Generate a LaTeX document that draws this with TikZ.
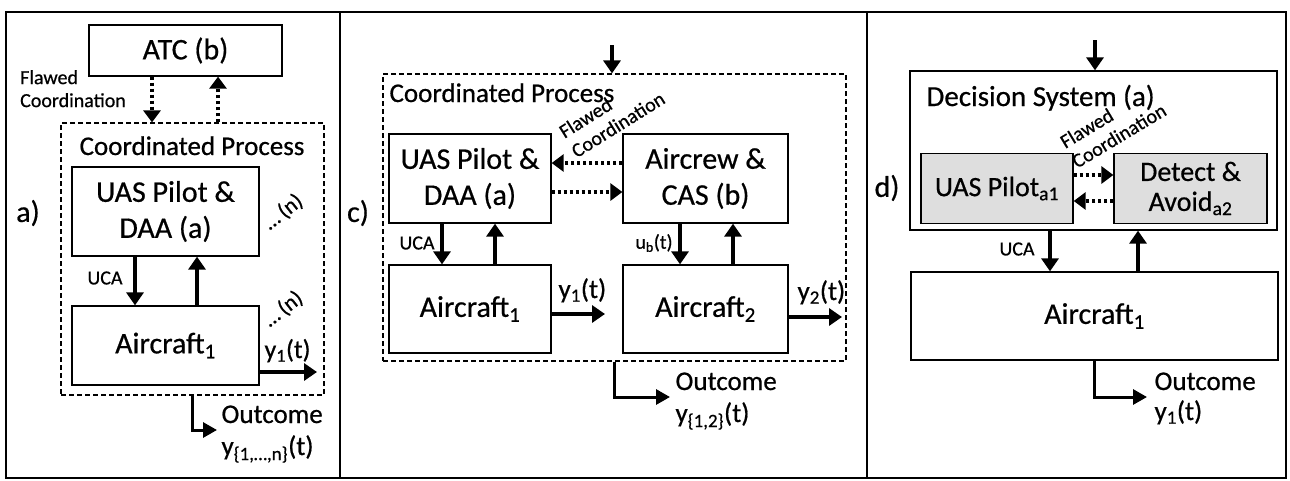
\documentclass[tikz,border=0pt]{standalone}
\usepackage{fontspec}
\setmainfont{Carlito}[FakeBold=0.6]
\usetikzlibrary{arrows.meta,positioning}
\begin{document}
\begin{tikzpicture}[
  x=1pt, y=-1pt,
  box/.style={draw, line width=1.3pt, inner sep=0pt, align=center, font=\fontsize{30}{36}\selectfont},
  graybox/.style={box, fill=black!13, font=\fontsize{28}{30}\selectfont},
  procbox/.style={draw, line width=1.2pt, dash pattern=on 5pt off 3pt, inner sep=0pt},
  flow/.style={line width=3.5pt, -{Triangle[length=13pt,width=17pt]}},
  coordarrow/.style={line width=3.5pt, dash pattern=on 3.5pt off 2.5pt, -{Triangle[length=12pt,width=17pt]}},
  outflow/.style={line width=3pt, -{Triangle[length=14pt,width=15pt]}},
  small/.style={inner sep=0pt, font=\fontsize{20}{23}\selectfont},
  medium/.style={font=\fontsize{27}{30}\selectfont},
  panel/.style={font=\fontsize{30}{36}\selectfont}
]
\useasboundingbox (0,0) rectangle (1290,480);
\draw[line width=1.5pt] (6,12) rectangle (1286,478);
\draw[line width=1.5pt] (340,12) -- (340,478);
\draw[line width=1.5pt] (867,12) -- (867,478);

% a) coordination with ATC
\node[box, minimum width=193pt, minimum height=51pt] (atc) at (185.5,50.5) {ATC (b)};
\node[small, align=left, anchor=north west] (flawA) at (20,70) {Flawed\\Coordination};
\node[procbox, minimum width=263pt, minimum height=272pt] (procA) at (192.5,259) {};
\node[medium, anchor=base] (procAlbl) at (192,155) {Coordinated Process};
\node[box, minimum width=187pt, minimum height=89pt] (pilotA) at (165.5,211.5) {UAS Pilot \&\\DAA (a)};
\node[box, minimum width=187pt, minimum height=79pt] (acA) at (165.5,345.5) {Aircraft\textsubscript{1}};
\node[panel] (labA) at (28,213) {a)};
\draw[coordarrow] ([xshift=-33.5pt]atc.south) -- ([xshift=-40.5pt]procA.north);
\draw[coordarrow] ([xshift=25.5pt]procA.north) -- ([xshift=32.5pt]atc.south);
\draw[flow] ([xshift=-30.5pt]pilotA.south) -- ([xshift=-30.5pt]acA.north);
\draw[flow] ([xshift=31.5pt]acA.north) -- ([xshift=31.5pt]pilotA.south);
\node[small] (ucaA) at (105,278) {UCA};
\node[small, font=\fontsize{22}{24}\selectfont, rotate=38] (nA1) at (283,212) {…\,(n)};
\node[small, font=\fontsize{22}{24}\selectfont, rotate=38] (nA2) at (283,309) {…\,(n)};
\coordinate (y1Aend) at (317,372);
\draw[flow] (acA.east |- y1Aend) -- (y1Aend);
\node[font=\fontsize{26}{30}\selectfont, anchor=base west] (y1A) at (261,358) {y\textsubscript{1}(t)};
\coordinate (outAend) at (217,430);
\draw[outflow] (procA.south) |- (outAend);
\node[medium, anchor=base west] (outA) at (218,423) {Outcome};
\node[medium, anchor=base west] (yA) at (218,455) {y\textsubscript{\{1,…,n\}}(t)};

% c) two aircraft
\coordinate (inC) at (612,45);
\node[procbox, minimum width=463pt, minimum height=287pt] (procC) at (614.5,217.5) {};
\draw[flow] (inC) -- (inC |- procC.north);
\node[medium, anchor=base west] (procClbl) at (386,102) {Coordinated Process};
\node[box, minimum width=162pt, minimum height=89pt] (pilotC) at (470,178.5) {UAS Pilot \&\\DAA (a)};
\node[box, minimum width=165pt, minimum height=89pt] (crewC) at (705.5,178.5) {Aircrew \&\\CAS (b)};
\draw[coordarrow] ([yshift=15.5pt]crewC.west) -- ([yshift=15.5pt]pilotC.east);
\draw[coordarrow] ([yshift=-13.5pt]pilotC.east) -- ([yshift=-13.5pt]crewC.west);
\node[small, align=left, anchor=north west, rotate=32] (flawC) at (557,127) {Flawed\\Coordination};
\node[panel] (labC) at (358,213) {c)};
\node[box, minimum width=162pt, minimum height=88pt] (acC1) at (470,309) {Aircraft\textsubscript{1}};
\node[box, minimum width=165pt, minimum height=88pt] (acC2) at (705.5,309) {Aircraft\textsubscript{2}};
\draw[flow] ([xshift=-28pt]pilotC.south) -- ([xshift=-28pt]acC1.north);
\draw[flow] ([xshift=25pt]acC1.north) -- ([xshift=25pt]pilotC.south);
\draw[flow] ([xshift=-25.5pt]crewC.south) -- ([xshift=-25.5pt]acC2.north);
\draw[flow] ([xshift=27.5pt]acC2.north) -- ([xshift=27.5pt]crewC.south);
\node[small] (ucaC) at (417,243) {UCA};
\node[small] (ubC) at (654,243) {u\textsubscript{b}(t)};
\coordinate (y1Cend) at (605,314);
\draw[flow] (acC1.east |- y1Cend) -- (y1Cend);
\node[font=\fontsize{27}{30}\selectfont, anchor=base west] (y1C) at (555,298) {y\textsubscript{1}(t)};
\coordinate (y2Cend) at (842,317);
\draw[flow] (acC2.east |- y2Cend) -- (y2Cend);
\node[font=\fontsize{27}{30}\selectfont, anchor=base west] (y2C) at (794,300) {y\textsubscript{2}(t)};
\coordinate (outCend) at (670,397);
\draw[outflow] (procC.south) |- (outCend);
\node[medium, anchor=base west] (outC) at (672,390) {Outcome};
\node[medium, anchor=base west] (yC) at (672,422) {y\textsubscript{\{1,2\}}(t)};

% d) decision system
\coordinate (inD) at (1095,40);
\node[box, minimum width=367pt, minimum height=159pt] (decD) at (1093.5,150.5) {};
\draw[flow] (inD) -- (inD |- decD.north);
\node[font=\fontsize{29}{32}\selectfont, anchor=base west] (decDlbl) at (923,106) {Decision System (a)};
\node[graybox, minimum width=152pt, minimum height=70pt] (pilotD) at (997,188.5) {UAS Pilot\textsubscript{a1}};
\node[graybox, minimum width=153pt, minimum height=70pt] (daaD) at (1190.5,188.5) {Detect \&\\Avoid\textsubscript{a2}};
\draw[coordarrow] ([yshift=13.5pt]pilotD.east) -- ([yshift=13.5pt]daaD.west);
\draw[coordarrow] ([yshift=-12.5pt]daaD.west) -- ([yshift=-12.5pt]pilotD.east);
\node[small, align=left, anchor=north west, rotate=31] (flawD) at (1058,137) {Flawed\\Coordination};
\node[panel] (labD) at (887,188) {d)};
\node[box, minimum width=367pt, minimum height=88pt] (acD) at (1094.5,316) {Aircraft\textsubscript{1}};
\draw[flow] ([xshift=-43.5pt]decD.south) -- ([xshift=-44.5pt]acD.north);
\draw[flow] ([xshift=43.5pt]acD.north) -- ([xshift=44.5pt]decD.south);
\node[small] (ucaD) at (1017,249) {UCA};
\coordinate (outDend) at (1147,397);
\draw[outflow] (acD.south) |- (outDend);
\node[medium, anchor=base west] (outD) at (1151,390) {Outcome};
\node[medium, anchor=base west] (yD) at (1151,420) {y\textsubscript{1}(t)};
\end{tikzpicture}
\end{document}
